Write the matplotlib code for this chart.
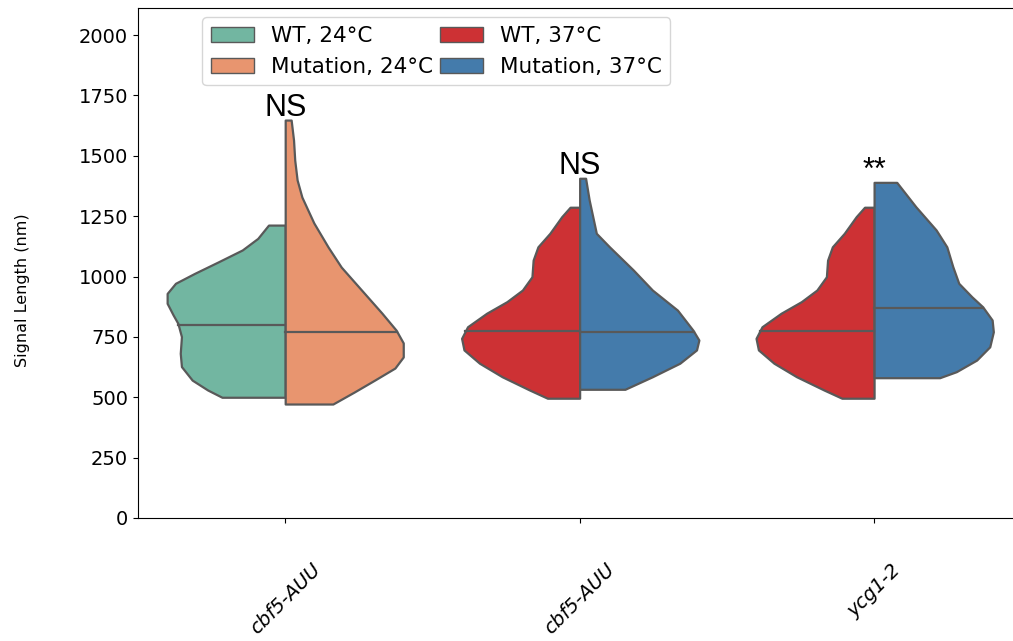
import matplotlib
matplotlib.use("Agg")
import matplotlib.pyplot as plt
from matplotlib.patches import Patch
import numpy as np

# categories and conditions
groups = ["cbf5-AUU", "cbf5-AUU", "ycg1-2"]
conditions = ["WT, 24°C", "Mutation, 24°C", "WT, 37°C", "Mutation, 37°C"]
colors = {"WT, 24°C": "#72b6a1", "Mutation, 24°C": "#e8956f",
          "WT, 37°C": "#cd3134", "Mutation, 37°C": "#447bab"}

# density profiles: signal length (nm) -> relative density
wt24_y = [1213, 1158, 1110, 1061, 1013, 972, 930, 889, 841, 806, 751, 682, 627, 571, 530, 500]
wt24_d = [0.14, 0.23, 0.36, 0.56, 0.76, 0.92, 0.99, 0.99, 0.94, 0.90, 0.87, 0.88, 0.87, 0.78, 0.65, 0.53]

mut24_y = [1648, 1565, 1482, 1400, 1329, 1222, 1122, 1039, 944, 849, 778, 725, 667, 621, 571, 522, 472]
mut24_d = [0.05, 0.07, 0.08, 0.10, 0.14, 0.24, 0.36, 0.47, 0.64, 0.81, 0.93, 0.99, 0.99, 0.92, 0.75, 0.58, 0.40]

wt37_y = [1287, 1248, 1179, 1123, 1068, 999, 944, 896, 848, 792, 744, 696, 641, 585, 530, 496]
wt37_d = [0.08, 0.15, 0.25, 0.35, 0.39, 0.40, 0.48, 0.61, 0.78, 0.94, 0.99, 0.97, 0.84, 0.65, 0.42, 0.27]

mut37a_y = [1407, 1317, 1179, 1123, 1027, 944, 861, 778, 737, 696, 641, 585, 533]
mut37a_d = [0.05, 0.08, 0.14, 0.25, 0.45, 0.61, 0.82, 0.95, 1.00, 0.98, 0.84, 0.61, 0.38]

mut37b_y = [1390, 1289, 1193, 1123, 1041, 972, 916, 875, 820, 771, 709, 654, 606, 581]
mut37b_d = [0.19, 0.35, 0.52, 0.61, 0.66, 0.71, 0.82, 0.91, 0.99, 1.00, 0.97, 0.86, 0.69, 0.55]

# medians (nm)
medians = [(800, 770), (775, 772), (775, 870)]
annotations = ["NS", "NS", "**"]

halves = [
    (("WT, 24°C", wt24_y, wt24_d), ("Mutation, 24°C", mut24_y, mut24_d)),
    (("WT, 37°C", wt37_y, wt37_d), ("Mutation, 37°C", mut37a_y, mut37a_d)),
    (("WT, 37°C", wt37_y, wt37_d), ("Mutation, 37°C", mut37b_y, mut37b_d)),
]

fig = plt.figure(figsize=(10.13, 6.41), dpi=100)
ax = fig.add_axes([0.1362, 0.1919, 0.872, 0.7956])

half_width = 0.405
edge = "#595959"

for i, ((lname, ly, ld), (rname, ry, rd)) in enumerate(halves):
    ly, ld = np.array(ly), np.array(ld)
    ry, rd = np.array(ry), np.array(rd)
    ax.fill_betweenx(ly, i - half_width * ld, i, facecolor=colors[lname],
                     edgecolor=edge, linewidth=1.6, zorder=2)
    ax.fill_betweenx(ry, i, i + half_width * rd, facecolor=colors[rname],
                     edgecolor=edge, linewidth=1.6, zorder=2)
    # median lines
    lm, rm = medians[i]
    lw_ = half_width * np.interp(lm, ly[::-1], ld[::-1])
    rw_ = half_width * np.interp(rm, ry[::-1], rd[::-1])
    ax.plot([i - lw_, i], [lm, lm], color=edge, linewidth=1.6, zorder=3)
    ax.plot([i, i + rw_], [rm, rm], color=edge, linewidth=1.6, zorder=3)
    top = max(ly.max(), ry.max())
    ax.text(i, top + 16, annotations[i], ha="center", va="baseline",
            fontsize=22, family="Liberation Sans")

ax.set_xlim(-0.5, 2.5)
ax.set_ylim(0, 2112)
ax.set_xticks(range(len(groups)))
ax.set_xticklabels(groups, rotation=45, fontsize=14, style="italic")
ax.tick_params(axis="x", pad=27)
ax.set_yticks(np.arange(0, 2001, 250))
ax.tick_params(axis="y", labelsize=14)
ax.set_ylabel("Signal Length (nm)", fontsize=11.5)
ax.yaxis.set_label_coords(-0.122, 0.447)

handles = [Patch(facecolor=colors[c], edgecolor=edge, label=c) for c in conditions]
ax.legend(handles=handles, ncol=2, loc="upper left", bbox_to_anchor=(0.068, 0.99),
          fontsize=15.5, columnspacing=0.3, handletextpad=0.8, borderaxespad=0.2)

fig.savefig("out.png", dpi=100)
